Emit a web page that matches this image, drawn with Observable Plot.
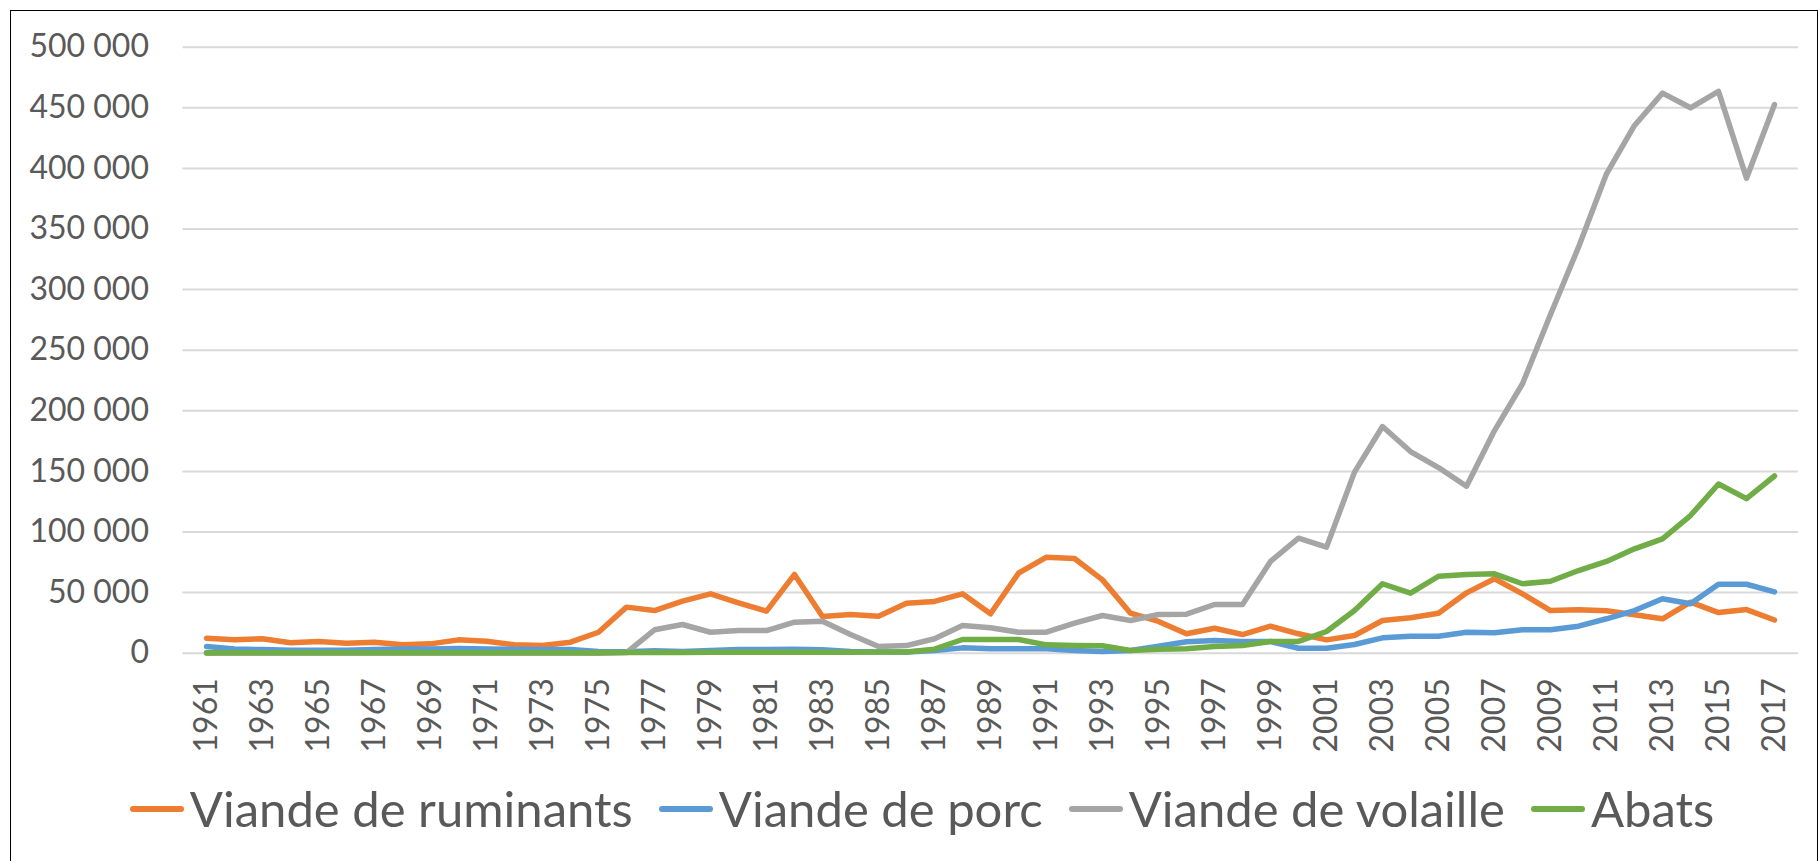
<!DOCTYPE html>
<html>
<head>
<meta charset="utf-8">
<script src="https://cdn.jsdelivr.net/npm/d3@7"></script>
<script src="https://cdn.jsdelivr.net/npm/@observablehq/plot@0.6"></script>
<style>
  html, body { margin: 0; padding: 0; background: #fff; overflow: hidden; }
  #frame { position: absolute; left: 10px; top: 10px; width: 1806px; height: 900px;
           border-top: 1.5px solid #000; border-left: 1.5px solid #000; border-right: 1.5px solid #000; }
  #chart { position: absolute; left: 0; top: 0; }
  #legend { position: absolute; left: 0; top: 784px; width: 1818px; box-sizing: border-box; padding-left: 26px;
            display: flex; justify-content: center; align-items: center;
            font-family: Lato, sans-serif; font-size: 49px; line-height: 49px; color: #595959; }
  .item { display: flex; align-items: center; margin: 0 13px; }
  .sw { width: 54px; height: 6px; border-radius: 3px; margin-right: 6px; }
</style>
</head>
<body>
<div id="frame"></div>
<div id="chart"></div>
<div id="legend"></div>
<script>
const years = [1961,1962,1963,1964,1965,1966,1967,1968,1969,1970,
  1971,1972,1973,1974,1975,1976,1977,1978,1979,1980,
  1981,1982,1983,1984,1985,1986,1987,1988,1989,1990,
  1991,1992,1993,1994,1995,1996,1997,1998,1999,2000,
  2001,2002,2003,2004,2005,2006,2007,2008,2009,2010,
  2011,2012,2013,2014,2015,2016,2017];

const seriesNames = ["Viande de ruminants", "Viande de porc", "Viande de volaille", "Abats"];
const seriesColors = ["#ED7D31", "#5B9BD5", "#A5A5A5", "#70AD47"];

const ruminants = [12400,11000,11900,8600,9600,8300,9100,6900,7700,11000,
  9900,6900,6400,9100,17300,38000,35200,42900,49000,41600,
  34700,65000,30300,31900,30500,41300,42700,49000,32500,66000,
  79200,78100,60500,33000,26200,16000,20600,15400,22300,16000,
  11000,14600,27000,29200,33000,49800,61400,49000,35200,35800,
  35000,31700,28400,42100,33500,36000,27400];

const porc = [5500,3500,3000,2500,2500,2500,3000,3500,3500,3800,
  3500,3200,3000,3000,1500,1200,2000,1500,2200,3000,
  3000,3200,2800,1500,1000,1000,2200,4400,3600,3600,
  3600,2200,1400,2200,5800,9400,10500,9700,9700,4100,
  4100,7200,12700,14000,14000,17300,16800,19300,19300,22300,
  28400,35200,44900,40800,56900,56900,50600];

const volaille = [0,0,0,0,0,0,0,0,0,0,
  0,0,0,0,0,500,19300,23700,17300,18700,
  18700,25600,26400,15400,5500,6300,11900,22900,21000,17300,
  17300,24800,31100,27000,31900,32200,40200,40200,75700,94900,
  87500,149400,187000,166400,153200,137800,183700,222300,279400,335000,
  395500,435400,462100,450000,463500,391900,452700];

const abats = [300,300,300,300,300,300,300,300,300,300,
  300,300,300,300,300,500,500,600,700,700,
  800,800,800,800,1000,1000,3300,11300,11300,11300,
  6900,6300,6100,2200,3300,3600,5500,6300,9700,9700,
  17900,35200,57300,49500,63500,64900,65500,57300,59400,68200,
  75700,86100,94400,113600,139600,127500,146200];

const yTicks = [0,50000,100000,150000,200000,250000,300000,350000,400000,450000,500000];
const xTicks = years.filter(y => (y - 1961) % 2 === 0);

const allSeries = [ruminants, porc, volaille, abats];
const data = [];
allSeries.forEach((vals, i) => {
  vals.forEach((v, j) => data.push({series: seriesNames[i], year: years[j], value: v}));
});

const fmt = d => d3.format(",")(d).replace(/,/g, " ");

const chart = Plot.plot({
  width: 1818,
  height: 770,
  marginTop: 46.7,
  marginBottom: 117.3,
  marginLeft: 182.5,
  marginRight: 20,
  style: {fontFamily: "Lato, sans-serif", fontSize: "32px", color: "#595959", background: "transparent", overflow: "visible"},
  x: {type: "point", domain: years, padding: 0.5, align: 0.5, label: null},
  y: {domain: [0, 500000], label: null},
  color: {domain: seriesNames, range: seriesColors},
  marks: [
    Plot.gridY(yTicks, {stroke: "#d9d9d9", strokeOpacity: 1, strokeWidth: 2}),
    Plot.axisY(yTicks, {tickSize: 0, tickPadding: 34, tickFormat: fmt, fontSize: 32, fill: "#595959", label: null}),
    Plot.axisX(xTicks, {tickSize: 0, tickPadding: 25, tickRotate: -90, tickFormat: d => String(d), fontSize: 32, fill: "#595959", label: null}),
    Plot.line(data, {x: "year", y: "value", z: "series", stroke: "series", strokeWidth: 5.5,
                     strokeLinecap: "round", strokeLinejoin: "round"})
  ]
});
document.getElementById("chart").appendChild(chart);

const legend = document.getElementById("legend");
seriesNames.forEach((name, i) => {
  const item = document.createElement("div");
  item.className = "item";
  const sw = document.createElement("div");
  sw.className = "sw";
  sw.style.background = seriesColors[i];
  const label = document.createElement("span");
  label.textContent = name;
  item.appendChild(sw);
  item.appendChild(label);
  legend.appendChild(item);
});
</script>
</body>
</html>
